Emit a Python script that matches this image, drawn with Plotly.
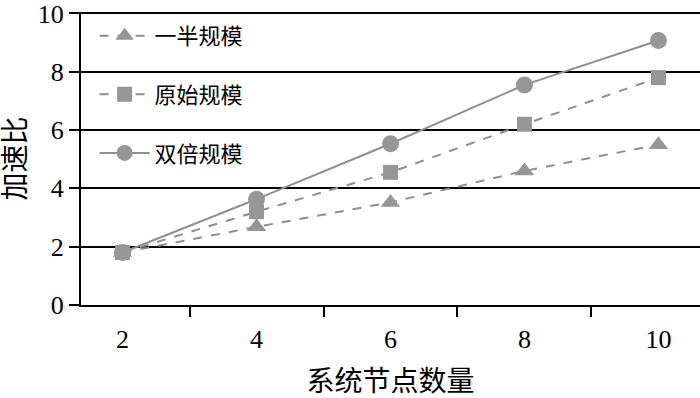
import plotly.graph_objects as go

nodes = ["2", "4", "6", "8", "10"]
half_scale = [1.8, 2.68, 3.52, 4.6, 5.5]
orig_scale = [1.8, 3.2, 4.55, 6.2, 7.8]
double_scale = [1.8, 3.63, 5.53, 7.55, 9.07]
series_names = ["一半规模", "原始规模", "双倍规模"]

gray_line = "#8f8f8f"
gray_mark = "#969696"
serif = "Liberation Serif, DejaVu Serif, Times New Roman, serif"
cjk = "Liberation Serif, Noto Sans CJK SC, serif"

fig = go.Figure()
specs = [
    (half_scale, "triangle-up", "dash", 17),
    (orig_scale, "square", "dash", 15),
    (double_scale, "circle", "solid", 17),
]
for i, (vals, sym, dash, sz) in enumerate(specs):
    fig.add_trace(go.Scatter(
        x=nodes, y=vals, name=series_names[i], mode="lines+markers",
        legendgroup=f"g{i}",
        line=dict(color=gray_line, width=2, dash=dash),
        marker=dict(symbol=sym, size=sz, color=gray_mark),
    ))

fig.update_layout(
    width=700, height=398,
    margin=dict(l=81, r=0, t=12, b=93, autoexpand=False),
    plot_bgcolor="white", paper_bgcolor="white",
    font=dict(family=cjk, size=22, color="black"),
    showlegend=True,
    legend=dict(
        x=0.022, y=0.99, xanchor="left", yanchor="top",
        bgcolor="rgba(0,0,0,0)", font=dict(size=22, family=cjk),
        tracegroupgap=27, itemwidth=50,
    ),
    xaxis=dict(
        type="category", tickson="boundaries", ticks="outside", ticklen=10,
        tickwidth=2, tickcolor="black", showline=True, linecolor="black",
        linewidth=2, showgrid=False, automargin=False,
        ticklabelstandoff=10,
        tickfont=dict(family=serif, size=26),
        title=dict(text="系统节点数量", font=dict(family=cjk, size=28), standoff=18),
    ),
    yaxis=dict(
        range=[0, 10.05], tickvals=[0, 2, 4, 6, 8, 10], ticks="outside",
        ticklen=10, tickwidth=2, tickcolor="black", showline=True,
        linecolor="black", linewidth=2, showgrid=True, gridcolor="black",
        gridwidth=2, zeroline=False, automargin=False,
        ticklabeloverflow="allow",
        tickfont=dict(family=serif, size=26),
        title=dict(text="加速比", font=dict(family=cjk, size=28), standoff=14),
    ),
)

fig.write_html(
    "out.html",
    config={"displayModeBar": False},
    post_script="document.body.style.margin='0';document.body.style.overflow='hidden';",
)
